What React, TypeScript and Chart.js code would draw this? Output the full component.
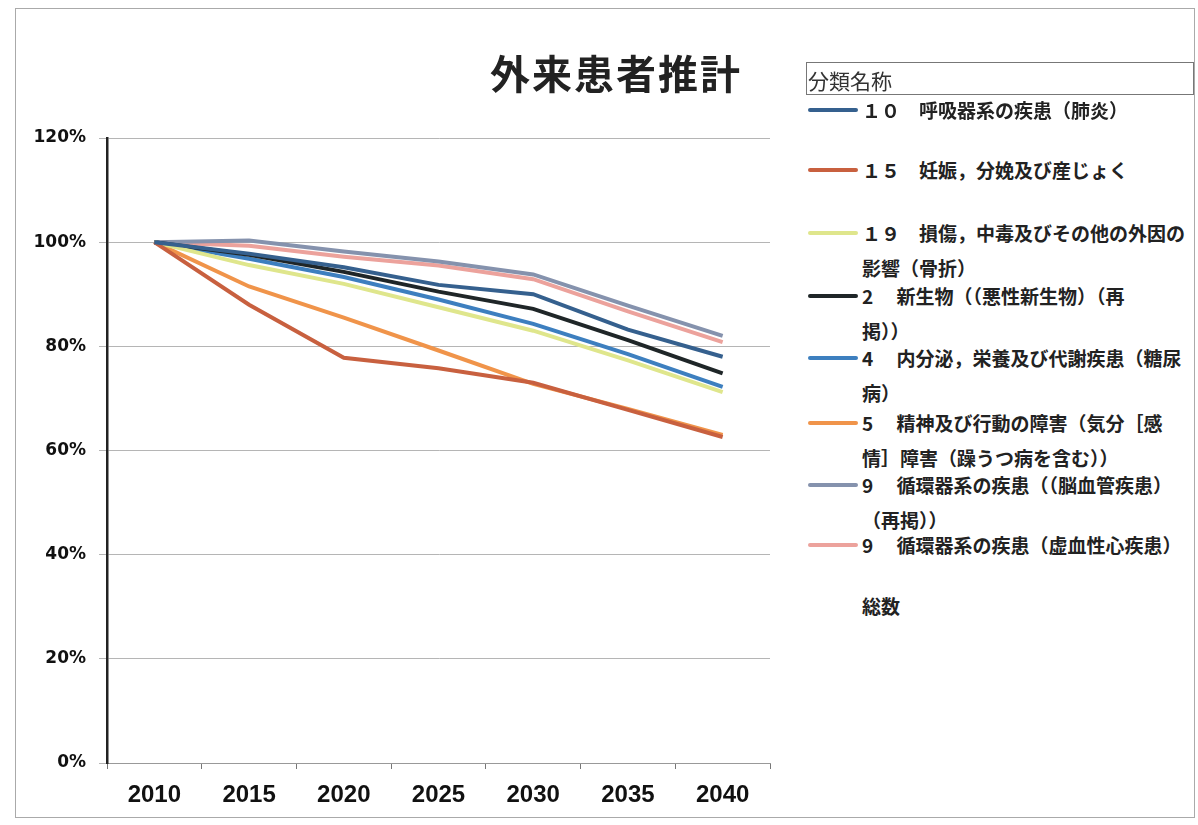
import React, { useEffect, useRef } from "react";
import { Chart, registerables } from "chart.js";

Chart.register(...registerables);

const title = "外来患者推計";
const legendTitle = "分類名称";
const years = ["2010", "2015", "2020", "2025", "2030", "2035", "2040"];
const yTicks = [0, 20, 40, 60, 80, 100, 120];

const labelsResp = ["１０　呼吸器系の疾患（肺炎）"];
const labelsPreg = ["１５　妊娠，分娩及び産じょく"];
const labelsInjury = ["１９　損傷，中毒及びその他の外因の", "影響（骨折）"];
const labelsNeo = ["2　 新生物（（悪性新生物）（再", "掲））"];
const labelsEndo = ["4　 内分泌，栄養及び代謝疾患（糖尿", "病）"];
const labelsMental = ["5　 精神及び行動の障害（気分［感", "情］障害（躁うつ病を含む））"];
const labelsCereb = ["9　 循環器系の疾患（（脳血管疾患）", "（再掲））"];
const labelsHeart = ["9　 循環器系の疾患（虚血性心疾患）"];
const labelsTotal = ["総数"];

const valuesResp = [100, 97.8, 95.2, 91.8, 90.0, 83.2, 78.0];
const valuesPreg = [100, 88.0, 77.8, 75.8, 73.0, 67.8, 62.6];
const valuesInjury = [100, 95.6, 92.0, 87.5, 83.0, 77.3, 71.2];
const valuesNeo = [100, 97.6, 94.3, 90.5, 87.2, 81.2, 74.8];
const valuesEndo = [100, 96.8, 93.3, 89.0, 84.3, 78.5, 72.2];
const valuesMental = [100, 91.5, 85.5, 79.2, 72.8, 68.0, 63.0];
const valuesCereb = [100, 100.3, 98.2, 96.3, 93.8, 87.8, 82.0];
const valuesHeart = [100, 99.3, 97.2, 95.5, 92.9, 86.7, 80.8];

const colorResp = "#35608e";
const colorPreg = "#c8603f";
const colorInjury = "#dfe68c";
const colorNeo = "#1f2628";
const colorEndo = "#3d7fbf";
const colorMental = "#f0944a";
const colorCereb = "#8592ad";
const colorHeart = "#eca29c";

const series = [
  { label: labelsResp, data: valuesResp, color: colorResp },
  { label: labelsPreg, data: valuesPreg, color: colorPreg },
  { label: labelsInjury, data: valuesInjury, color: colorInjury },
  { label: labelsNeo, data: valuesNeo, color: colorNeo },
  { label: labelsEndo, data: valuesEndo, color: colorEndo },
  { label: labelsMental, data: valuesMental, color: colorMental },
  { label: labelsCereb, data: valuesCereb, color: colorCereb },
  { label: labelsHeart, data: valuesHeart, color: colorHeart },
];

const legendItems = [
  { lines: labelsResp, color: colorResp, y: 110 },
  { lines: labelsPreg, color: colorPreg, y: 170 },
  { lines: labelsInjury, color: colorInjury, y: 233 },
  { lines: labelsNeo, color: colorNeo, y: 296 },
  { lines: labelsEndo, color: colorEndo, y: 358 },
  { lines: labelsMental, color: colorMental, y: 423 },
  { lines: labelsCereb, color: colorCereb, y: 485 },
  { lines: labelsHeart, color: colorHeart, y: 545 },
  { lines: labelsTotal, color: null, y: 606 },
];

const jpFont = '"Noto Sans CJK JP", "Noto Sans", sans-serif';

export default function App() {
  const canvasRef = useRef<HTMLCanvasElement | null>(null);

  useEffect(() => {
    const canvas = canvasRef.current;
    if (!canvas) return;
    const chart = new Chart(canvas, {
      type: "line",
      data: {
        labels: years,
        datasets: series.map((s) => ({
          label: s.label.join(""),
          data: s.data,
          borderColor: s.color,
          backgroundColor: s.color,
          borderWidth: 4,
          pointRadius: 0,
          tension: 0,
          fill: false,
        })),
      },
      options: {
        animation: false,
        responsive: false,
        maintainAspectRatio: false,
        layout: { padding: { top: 138, right: 20, bottom: 0, left: 0 } },
        plugins: {
          legend: { display: false },
          title: { display: false },
          tooltip: { enabled: false },
        },
        scales: {
          x: {
            type: "category",
            offset: true,
            grid: {
              offset: true,
              drawOnChartArea: false,
              drawTicks: true,
              tickLength: 6,
              color: "#777",
            },
            border: { color: "#999", width: 1 },
            ticks: {
              color: "#111",
              padding: 12,
              maxRotation: 0,
              font: { family: '"Liberation Sans", Arial, sans-serif', size: 24, weight: "bold" },
            },
            afterFit: (scale: any) => {
              scale.height = 62;
            },
          },
          y: {
            min: 0,
            max: 120,
            afterBuildTicks: (scale: any) => {
              scale.ticks = yTicks.map((v) => ({ value: v }));
            },
            grid: {
              color: "#b5b5b5",
              lineWidth: 1,
              tickLength: 8,
            },
            border: { color: "#222", width: 2.5 },
            ticks: {
              color: "#111",
              padding: 13,
              callback: (v: any) => v + "%",
              font: { family: '"DejaVu Sans", sans-serif', size: 17, weight: "bold" },
            },
            afterFit: (scale: any) => {
              scale.width = 107;
            },
          },
        },
      },
    });
    return () => chart.destroy();
  }, []);

  return (
    <div
      style={{
        position: "fixed",
        left: 0,
        top: 0,
        width: 1198,
        height: 825,
        background: "#fff",
        overflow: "hidden",
      }}
    >
      <div
        style={{
          position: "absolute",
          left: 15,
          top: 8,
          width: 1180,
          height: 810,
          border: "1px solid #aaa",
          boxSizing: "border-box",
        }}
      />
      <canvas
        ref={canvasRef}
        width={790}
        height={825}
        style={{ position: "absolute", left: 0, top: 0, width: 790, height: 825 }}
      />
      <div
        style={{
          position: "absolute",
          left: 416,
          width: 400,
          top: 44,
          height: 56,
          lineHeight: "56px",
          textAlign: "center",
          fontFamily: jpFont,
          fontWeight: 700,
          fontSize: 40,
          letterSpacing: 2,
          color: "#222",
        }}
      >
        {title}
      </div>
      <div
        style={{
          position: "absolute",
          left: 806,
          top: 62,
          width: 388,
          height: 33,
          border: "1px solid #777",
          boxSizing: "border-box",
          fontFamily: jpFont,
          fontSize: 21,
          lineHeight: "34px",
          paddingLeft: 1,
          color: "#333",
        }}
      >
        {legendTitle}
      </div>
      {legendItems.map((item, i) => (
        <div key={i}>
          {item.color && (
            <div
              style={{
                position: "absolute",
                left: 808,
                top: item.y - 2,
                width: 50,
                height: 4,
                background: item.color,
                borderRadius: 2,
              }}
            />
          )}
          {item.lines.map((line, j) => (
            <div
              key={j}
              style={{
                position: "absolute",
                left: 862,
                top: item.y - 17 + j * 35,
                height: 34,
                lineHeight: "34px",
                whiteSpace: "nowrap",
                fontFamily: jpFont,
                fontSize: 19,
                fontWeight: 700,
                color: "#222",
              }}
            >
              {line}
            </div>
          ))}
        </div>
      ))}
    </div>
  );
}
